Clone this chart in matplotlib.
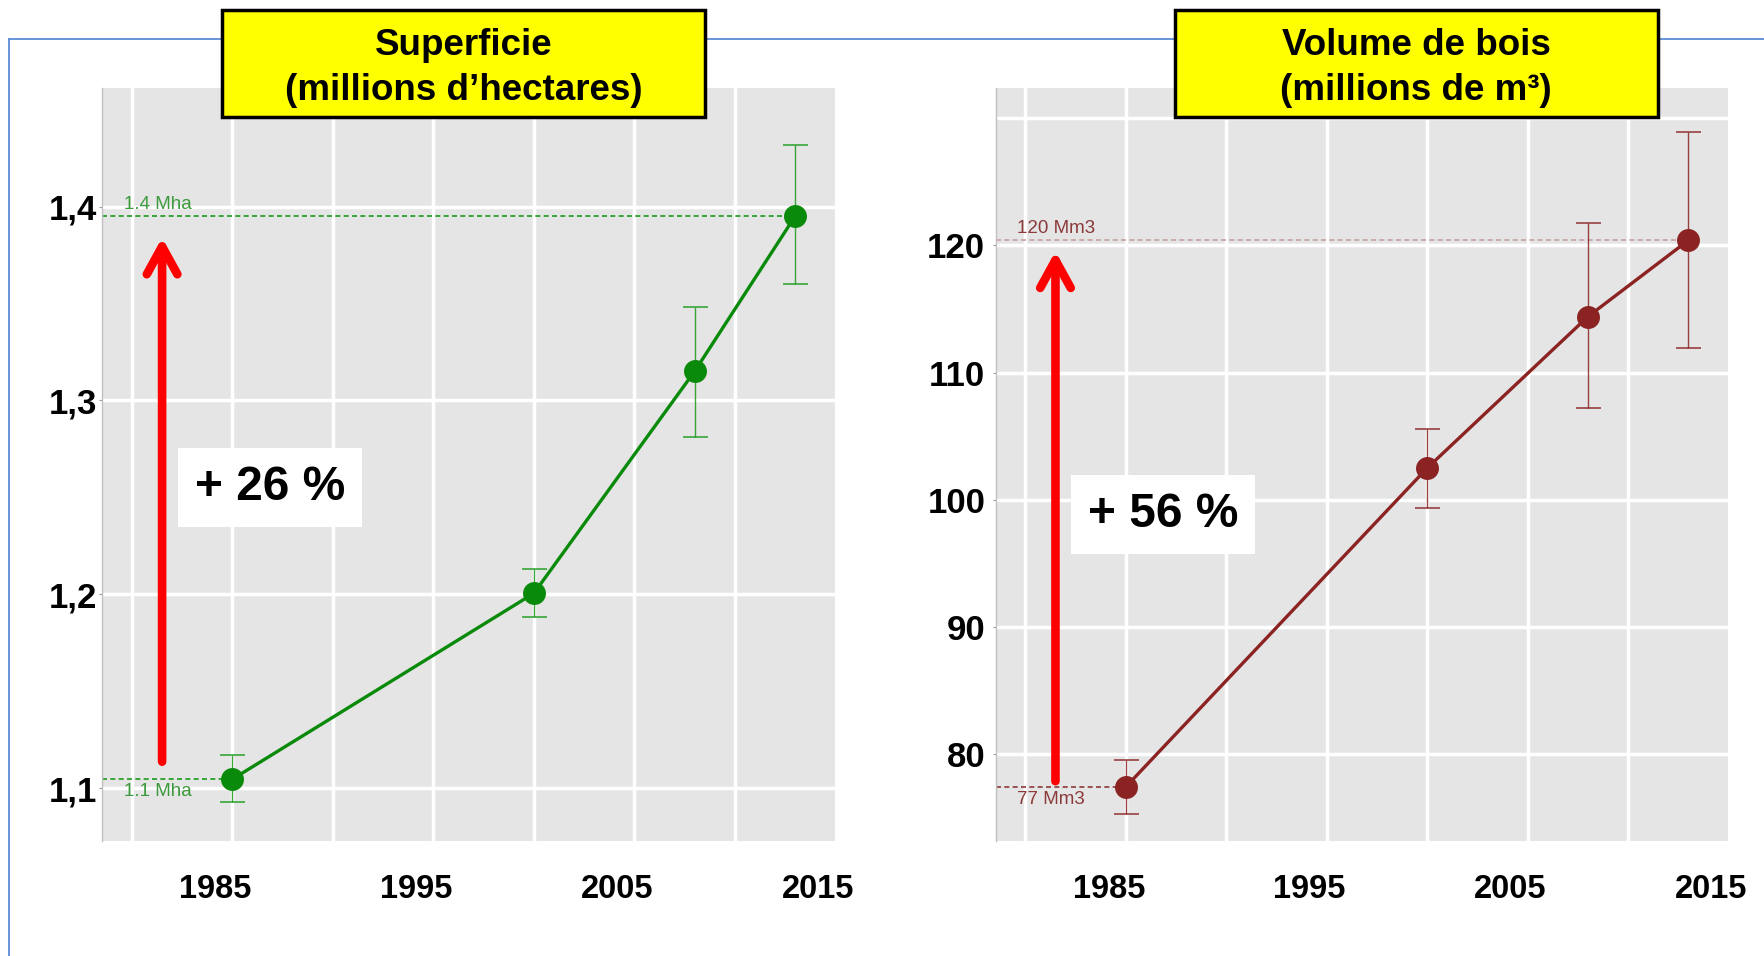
import matplotlib
matplotlib.use("Agg")
import matplotlib.pyplot as plt
import matplotlib.transforms as mtransforms
from matplotlib.patches import Rectangle
from matplotlib.lines import Line2D
import numpy as np

# ---------------- data ----------------
years = [1985, 2000, 2008, 2013]

surface = [1.1046, 1.2005, 1.315, 1.395]
surface_low = [1.093, 1.188, 1.281, 1.360]
surface_high = [1.117, 1.213, 1.348, 1.432]

volume = [77.45, 102.5, 114.4, 120.4]
volume_low = [75.3, 99.4, 107.2, 111.95]
volume_high = [79.55, 105.6, 121.8, 128.9]

x_major = [1985, 1995, 2005, 2015]
x_labels = ["1985", "1995", "2005", "2015"]
x_minor = [1980, 1990, 2000, 2010]

surf_ticks = [1.1, 1.2, 1.3, 1.4]
surf_labels = ["1,1", "1,2", "1,3", "1,4"]
vol_ticks = [80, 90, 100, 110, 120]
vol_labels = ["80", "90", "100", "110", "120"]
vol_minor = [130]

titles = ["Superficie", "(millions d\u2019hectares)", "Volume de bois", "(millions de m\u00b3)"]
pct_labels = ["+ 26 %", "+ 56 %"]
first_labels = ["1.1 Mha", "77 Mm3"]
last_labels = ["1.4 Mha", "120 Mm3"]

# ---------------- style ----------------
plt.rcParams["font.family"] = ["Liberation Sans", "DejaVu Sans"]
W, H = 1764, 956
fig = plt.figure(figsize=(W / 100, H / 100), dpi=100)
fig.patch.set_facecolor("white")

XMIN, XMAX = 1978.52, 2015.0


def panel(ax, vals, lo, hi, line_c, err_c, ref_top_c, ref_bot_c, lab_c,
          ylim, yt, ytl, yminor, pct, pct_y, lab_first, lab_last,
          pad_top, pad_bot, ylab_pad, top_off):
    vals = np.asarray(vals)
    lo = np.asarray(lo)
    hi = np.asarray(hi)
    ax.set_facecolor("#e5e5e5")
    ax.set_xlim(XMIN, XMAX)
    ax.set_ylim(*ylim)
    ax.set_xticks(x_major)
    ax.set_xticklabels(x_labels, fontsize=23.5, fontweight="bold")
    ax.set_xticks(x_minor, minor=True)
    ax.set_yticks(yt)
    ax.set_yticklabels(ytl, fontsize=25, fontweight="bold")
    if yminor:
        ax.set_yticks(yminor, minor=True)
    ax.grid(True, which="both", color="white", lw=2.5)
    ax.set_axisbelow(True)
    ax.xaxis.get_major_ticks()[-1].gridline.set_visible(False)
    for s in ["top", "right", "bottom"]:
        ax.spines[s].set_visible(False)
    ax.spines["left"].set_color("#c0c0c0")
    ax.spines["left"].set_linewidth(1.0)
    ax.tick_params(axis="x", which="both", length=0, pad=24)
    ax.tick_params(axis="y", which="major", length=2.5, color="#999999",
                   pad=ylab_pad)
    ax.tick_params(axis="y", which="minor", length=0)
    off = mtransforms.ScaledTranslation(-17 / 100, 0, fig.dpi_scale_trans)
    for lab in ax.get_xticklabels():
        lab.set_transform(lab.get_transform() + off)

    # reference lines
    ax.plot([XMIN, years[-1]], [vals[-1], vals[-1]], color=ref_top_c,
            lw=1.2, ls=(0, (3, 2)), zorder=2)
    ax.plot([XMIN, years[0]], [vals[0], vals[0]], color=ref_bot_c,
            lw=1.2, ls=(0, (3, 2)), zorder=2)
    ax.annotate(lab_last, xy=(1979.6, vals[-1]), xytext=(0, top_off),
                textcoords="offset points", ha="left", va="baseline",
                fontsize=13.5, color=lab_c)
    ax.annotate(lab_first, xy=(1979.6, vals[0]), xytext=(0, -3),
                textcoords="offset points", ha="left", va="top",
                fontsize=13.5, color=lab_c)

    # series
    ax.errorbar(years, vals, yerr=[vals - lo, hi - vals], fmt="none",
                ecolor=err_c, elinewidth=1.0, capsize=9, capthick=1.2,
                alpha=0.85, zorder=3)
    ax.plot(years, vals, color=line_c, lw=2.4, marker="o", ms=15.5,
            markerfacecolor=line_c, markeredgecolor=line_c, zorder=4)

    # red arrow
    ax.annotate("", xy=(1981.5, vals[-1] - pad_top),
                xytext=(1981.5, vals[0] + pad_bot),
                arrowprops=dict(arrowstyle="->,head_length=1.0,head_width=0.55",
                                lw=6.2, color="#ff0000", shrinkA=0, shrinkB=0,
                                mutation_scale=20, capstyle="round"),
                zorder=5)
    ax.text(1986.87, pct_y, pct, ha="center", va="center", fontsize=34.5,
            fontweight="bold", color="black", zorder=6,
            bbox=dict(facecolor="white", edgecolor="none",
                      boxstyle="square,pad=0.35"))


ax1 = fig.add_axes([0.05794, 0.12029, 0.41559, 0.78797])
ax2 = fig.add_axes([0.56440, 0.12029, 0.41542, 0.78797])

panel(ax1, surface, surface_low, surface_high,
      line_c="#0a8a0a", err_c="#1a991a", ref_top_c="#1a9a1a",
      ref_bot_c="#1a9a1a", lab_c="#3c9a3c",
      ylim=(1.0727, 1.4613), yt=surf_ticks, ytl=surf_labels, yminor=None,
      pct=pct_labels[0], pct_y=1.255, lab_first=first_labels[0],
      lab_last=last_labels[0], pad_top=0.011, pad_bot=0.009, ylab_pad=1,
      top_off=5)

panel(ax2, volume, volume_low, volume_high,
      line_c="#8b2323", err_c="#8b2323", ref_top_c="#c9a0a0",
      ref_bot_c="#8b3a3a", lab_c="#8b3a3a",
      ylim=(73.2, 132.4), yt=vol_ticks, ytl=vol_labels, yminor=vol_minor,
      pct=pct_labels[1], pct_y=98.85, lab_first=first_labels[1],
      lab_last=last_labels[1], pad_top=0.85, pad_bot=0.45, ylab_pad=5,
      top_off=5)

# blue frame
by = 1 - 39.3 / H
bx = 8.6 / W
fig.add_artist(Line2D([bx, 1.0], [by, by], transform=fig.transFigure,
                      color="#5b8bd6", lw=1.3, zorder=5))
fig.add_artist(Line2D([bx, bx], [0, by], transform=fig.transFigure,
                      color="#5b8bd6", lw=1.3, zorder=5))

# title boxes
for i, (x0, x1) in enumerate([(221.7, 705.3), (1174.7, 1657.9)]):
    fig.add_artist(Rectangle((x0 / W, 1 - 116.6 / H), (x1 - x0) / W,
                             106.6 / H, transform=fig.transFigure,
                             facecolor="#ffff00", edgecolor="black",
                             lw=2.5, zorder=10))
    cx = (x0 + x1) / 2 / W
    fig.text(cx, 1 - 55 / H, titles[2 * i], ha="center", va="baseline",
             fontsize=26.5, fontweight="bold", zorder=11)
    fig.text(cx, 1 - 100 / H, titles[2 * i + 1], ha="center", va="baseline",
             fontsize=26.5, fontweight="bold", zorder=11)

fig.savefig("out.png", dpi=100)
